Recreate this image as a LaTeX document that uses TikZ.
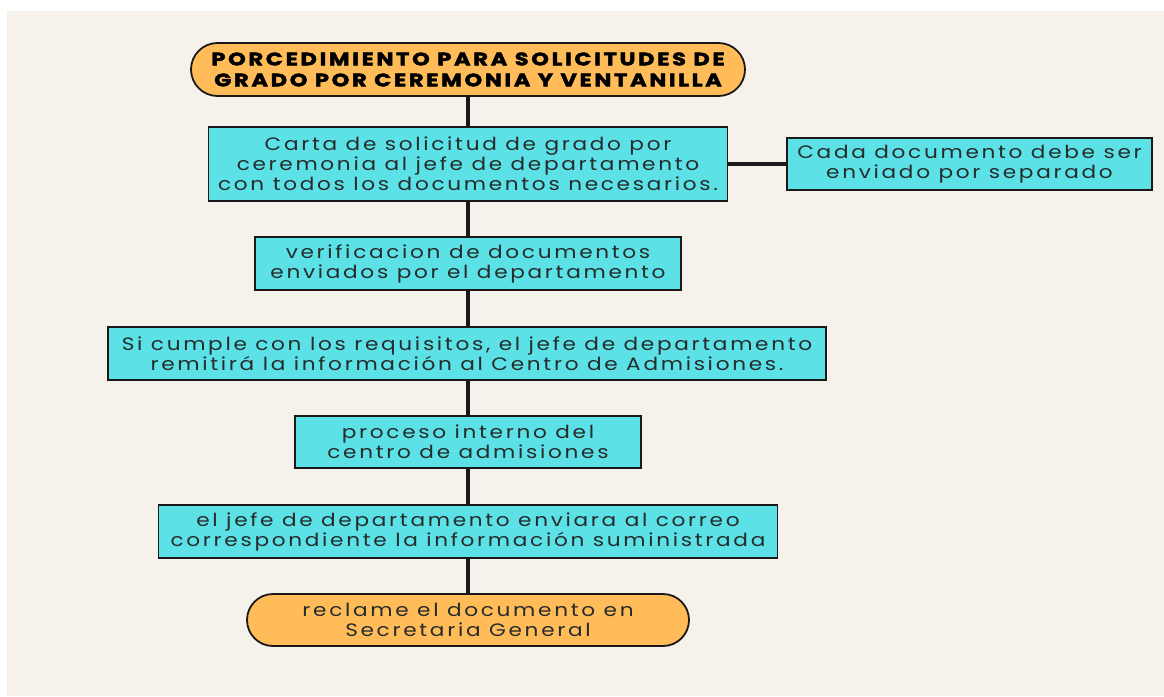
\documentclass[tikz,border=0pt]{standalone}
\usepackage{fontspec}
\setmainfont{Poppins}[LetterSpace=15,FakeStretch=1.2]
\newfontfamily\titlefont{Poppins}[LetterSpace=15,FakeStretch=1.25,BoldFeatures={FakeBold=2.5}]
\usetikzlibrary{shapes.misc}
\definecolor{bgbeige}{HTML}{F6F1EA}
\definecolor{boxcyan}{HTML}{5CE1E6}
\definecolor{pillorange}{HTML}{FFBC59}
\definecolor{txt}{HTML}{262B2B}
\tikzset{
  stepbox/.style={draw=black!90, line width=1.8pt, fill=boxcyan, text=txt, align=center,
    font=\fontsize{18}{20}\selectfont, inner sep=0pt},
  pill/.style={rounded rectangle, draw=black!90, line width=1.8pt, fill=pillorange, align=center,
    inner sep=0pt},
  link/.style={line width=4pt, black!90},
}
\begin{document}
\begin{tikzpicture}[x=1pt,y=-1pt]
\useasboundingbox (0,0) rectangle (1164,696);
\fill[white] (0,0) rectangle (1164,696);
\fill[bgbeige] (7,11) rectangle (1164,696);

\node[pill, minimum width=554pt, minimum height=53pt, font=\titlefont\bfseries\fontsize{18}{21}\selectfont, text=black] (t) at (468,69.5)
  {PORCEDIMIENTO PARA SOLICITUDES DE\\GRADO POR CEREMONIA Y VENTANILLA};
\node[stepbox, minimum width=519pt, minimum height=74pt] (b1) at (468,164)
  {Carta de solicitud de grado por\\ceremonia al jefe de departamento\\con todos los documentos necesarios.};
\node[stepbox, minimum width=365pt, minimum height=52pt] (s) at (969.5,164)
  {Cada documento debe ser\\enviado por separado};
\node[stepbox, minimum width=426pt, minimum height=53pt] (b2) at (468,263.5)
  {verificacion de documentos\\enviados por el departamento};
\node[stepbox, minimum width=718pt, minimum height=53pt] (b3) at (467,353.5)
  {Si cumple con los requisitos, el jefe de departamento\\remitirá la información al Centro de Admisiones.};
\node[stepbox, minimum width=346pt, minimum height=52pt] (b4) at (468,442)
  {proceso interno del\\centro de admisiones};
\node[stepbox, minimum width=619pt, minimum height=53pt] (b5) at (468,531.5)
  {el jefe de departamento enviara al correo\\correspondiente la información suministrada};
\node[pill, minimum width=442pt, minimum height=52pt, text=txt, font=\fontsize{18}{20}\selectfont] (e) at (468,620)
  {reclame el documento en\\Secretaria General};

\draw[link] (t.south) -- (b1.north);
\draw[link] (b1.south) -- (b2.north);
\draw[link] (b2.south) -- (b3.north -| b2.south);
\draw[link] (b3.south -| b4.north) -- (b4.north);
\draw[link] (b4.south) -- (b5.north);
\draw[link] (b5.south) -- (e.north);
\draw[link] (b1.east) -- (s.west);
\end{tikzpicture}
\end{document}
